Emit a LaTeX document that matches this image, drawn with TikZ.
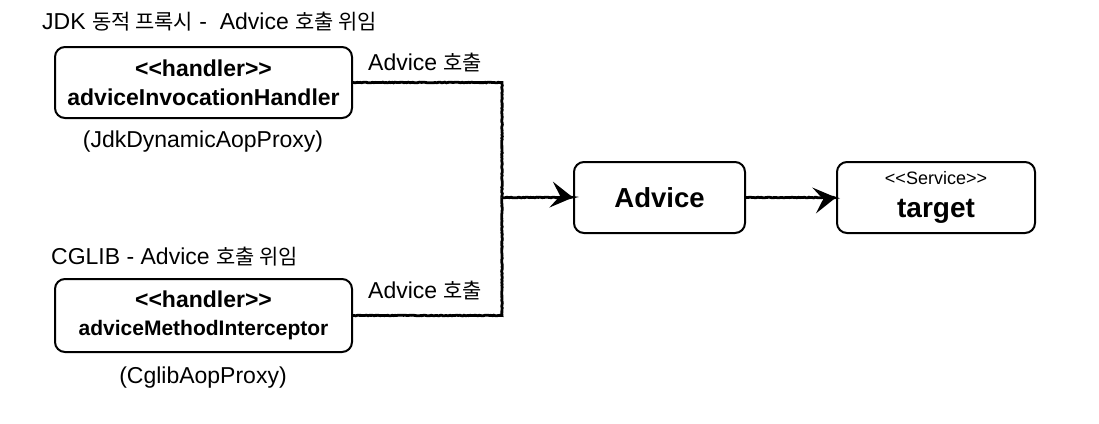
\documentclass[tikz,border=0pt]{standalone}
\usepackage{fontspec}
\setmainfont{Liberation Sans}
\newfontfamily\kr{Noto Sans CJK KR}[Scale=0.91]
\usetikzlibrary{arrows.meta,decorations.pathmorphing}
\tikzset{
  box/.style={draw=black, line width=2pt, rounded corners=10pt, fill=white, align=center, inner sep=0pt},
  txt/.style={inner sep=0pt, text=black, font=\fontsize{23}{26}\selectfont},
  conn/.style={draw=black, line width=2.8pt, decorate, decoration={random steps, segment length=1.5pt, amplitude=0.35pt}},
  arr/.style={conn, -{Stealth[length=22pt, width=26pt, inset=9pt]}},
}
\begin{document}
\begin{tikzpicture}[x=1pt, y=-1pt]
\useasboundingbox (0,0) rectangle (1099,423);
\fill[white] (0,0) rectangle (1099,423);

\node[txt, anchor=west] (t1) at (42,22) {JDK {\kr 동적 프록시} -\ \ Advice {\kr 호출 위임}};
\node[txt, anchor=west] (t2) at (51,256.5) {CGLIB - Advice {\kr 호출 위임}};

\node[box, minimum width=297pt, minimum height=71pt, font=\fontsize{23}{29}\selectfont\bfseries] (h1) at (203.5,82.5)
  {<{}<handler>{}>\\adviceInvocationHandler};
\node[box, minimum width=297pt, minimum height=73pt, font=\fontsize{23}{28.5}\selectfont\bfseries] (h2) at (203.5,315.5)
  {<{}<handler>{}>\\{\fontsize{21}{28.5}\selectfont adviceMethodInterceptor}};

\node[txt] (p1) at (203,141.6) {(JdkDynamicAopProxy)};
\node[txt] (p2) at (203,378) {(CglibAopProxy)};

\node[box, minimum width=171pt, minimum height=71pt, font=\fontsize{27.5}{30}\selectfont\bfseries] (adv) at (659.5,197.5) {Advice};
\node[box, minimum width=198pt, minimum height=71pt, font=\fontsize{18}{33}\selectfont] (tgt) at (936,197.5)
  {<{}<Service>{}>\\{\fontsize{28}{33}\selectfont\bfseries target}};

\coordinate (j) at (502,197.5);
\draw[conn] (h1.east) -| (j);
\draw[conn] (h2.east) -| (j);
\draw[arr] (j) -- (adv.west);
\draw[arr] (adv.east) -- (tgt.west);

\node[txt, anchor=west] (l1) at (368,63) {Advice {\kr 호출}};
\node[txt, anchor=west] (l2) at (368,290) {Advice {\kr 호출}};
\end{tikzpicture}
\end{document}
